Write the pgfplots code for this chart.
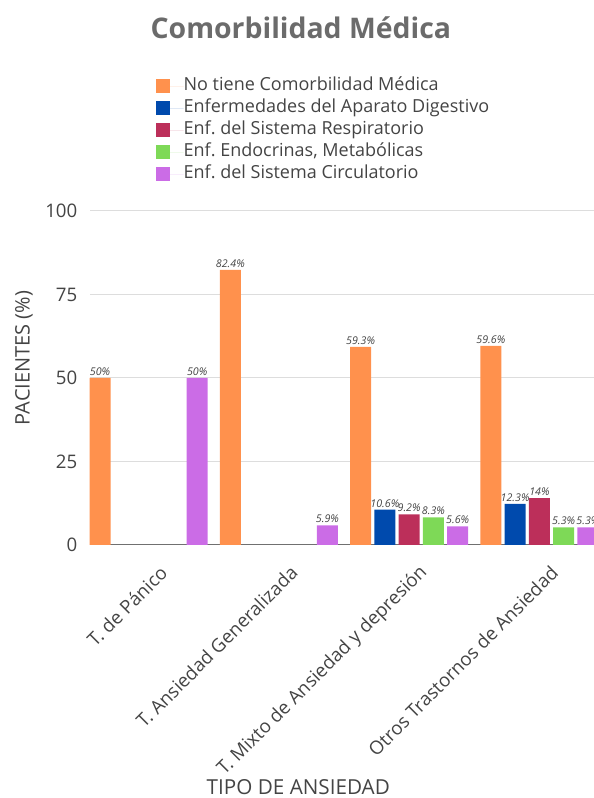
\documentclass[border=0pt]{standalone}
\usepackage{pgfplots}
\pgfplotsset{compat=1.18}
\usepackage{fontspec}
\setmainfont{Open Sans}
\frenchspacing

\definecolor{cOrange}{HTML}{FF914D}
\definecolor{cBlue}{HTML}{004AAD}
\definecolor{cRed}{HTML}{BC2F5A}
\definecolor{cGreen}{HTML}{7ED957}
\definecolor{cPurple}{HTML}{CB6CE6}
\definecolor{txt}{HTML}{444444}
\definecolor{ttl}{HTML}{6B6B6B}
\definecolor{gridc}{HTML}{DDDDDD}
\definecolor{zeroc}{HTML}{707070}

\begin{document}
\begin{tikzpicture}
% page: 593 x 798 units of 0.75pt
\path[use as bounding box] (0,0) rectangle (444.75pt,598.5pt);
\begin{axis}[
  at={(67.5pt,189.75pt)}, anchor=south west,
  scale only axis, width=381pt, height=250.5pt,
  xmin=-0.45, xmax=3.45, ymin=0, ymax=100,
  clip=false,
  ybar, bar width=15.75pt,
  ytick={0,25,50,75,100},
  xtick={0,1,2,3},
  xticklabels={T. de Pánico, T. Ansiedad Generalizada, T. Mixto de Ansiedad y depresión, Otros Trastornos de Ansiedad},
  axis x line*=bottom, axis y line*=left,
  x axis line style={draw=zeroc, line width=0.75pt},
  y axis line style={draw=none},
  major tick length=0pt,
  ymajorgrids, grid style={draw=gridc, line width=0.75pt},
  /pgf/number format/assume math mode=true,
  yticklabel style={font=\fontsize{14}{16}\selectfont, text=txt, xshift=-6pt},
  xticklabel style={font=\fontsize{14}{16}\selectfont, text=txt, rotate=45, anchor=east, xshift=-1.5pt, yshift=-21pt},
  title={Comorbilidad Médica},
  every axis title/.style={at={(axis description cs:0.415,1.548)}, anchor=center, font=\bfseries\fontsize{21.3}{25}\selectfont, text=ttl},
  ylabel={PACIENTES (\%)},
  every axis y label/.style={at={(axis description cs:-0.13,0.56)}, rotate=90, anchor=center, font=\fontsize{15}{17}\selectfont, text=txt},
  xlabel={TIPO DE ANSIEDAD},
  every axis x label/.style={at={(axis description cs:0.41,-0.7246)}, anchor=center, font=\fontsize{15.5}{18}\selectfont, text=txt},
  nodes near coords={\pgfmathprintnumber{\pgfplotspointmeta}\%},
  every node near coord/.append style={font=\itshape\fontsize{8}{9}\selectfont, text=txt, inner sep=1.5pt},
  legend style={at={(axis description cs:0.13,1.4065)}, anchor=north west, draw=none, fill=none,
    font=\fontsize{13.5}{15}\selectfont, text=txt, row sep=0pt, inner sep=0pt,
    nodes={inner sep=0pt, text height=11.5pt, text depth=5pt}},
  legend cell align=left,
  legend image code/.code={\fill[#1] (0pt,-5.25pt) rectangle (10.5pt,5.25pt); \path (0pt,0pt) -- (20.5pt,0pt);},
]
\addplot[fill=cOrange, draw=none, bar shift=-36.4pt] coordinates {(0,50) (1,82.4) (2,59.3) (3,59.6)};
\addplot[fill=cBlue, draw=none, bar shift=-18.2pt] coordinates {(2,10.6) (3,12.3)};
\addplot[fill=cRed, draw=none, bar shift=0pt] coordinates {(2,9.2) (3,14)};
\addplot[fill=cGreen, draw=none, bar shift=18.2pt] coordinates {(2,8.3) (3,5.3)};
\addplot[fill=cPurple, draw=none, bar shift=36.4pt] coordinates {(0,50) (1,5.9) (2,5.6) (3,5.3)};
\legend{No tiene Comorbilidad Médica, Enfermedades del Aparato Digestivo, Enf. del Sistema Respiratorio, Enf. Endocrinas{,} Metabólicas, Enf. del Sistema Circulatorio}
\end{axis}
\end{tikzpicture}
\end{document}
